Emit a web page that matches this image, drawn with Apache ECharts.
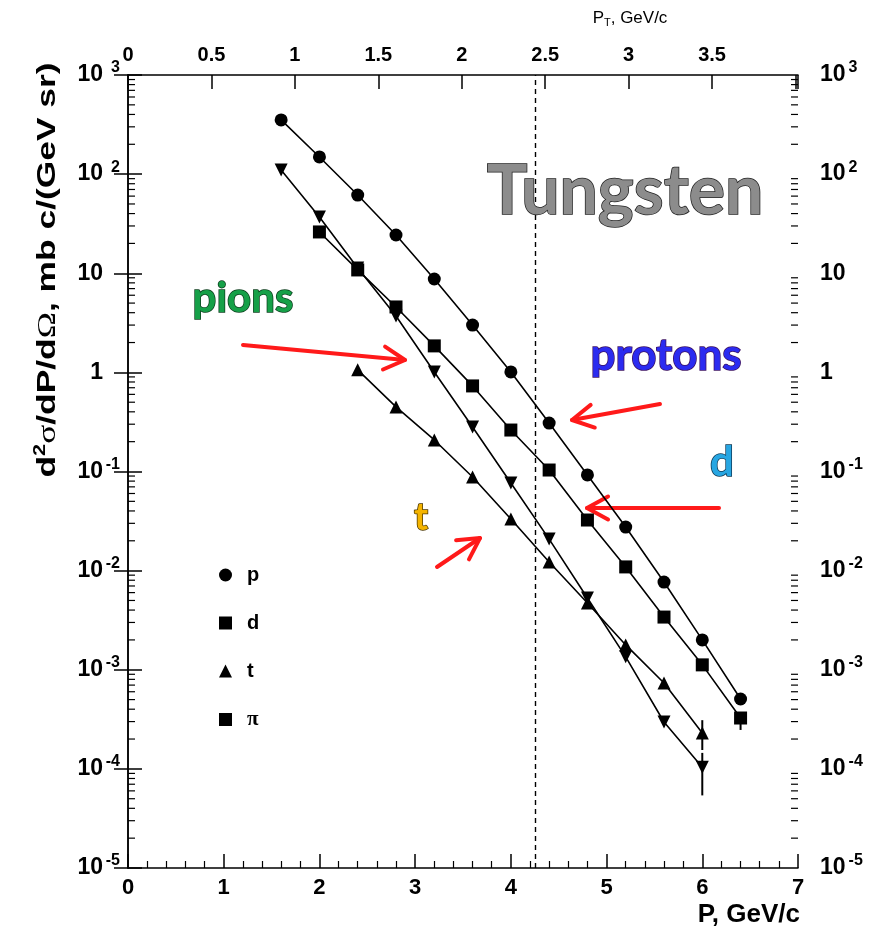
<!DOCTYPE html>
<html>
<head>
<meta charset="utf-8">
<script src="https://cdn.jsdelivr.net/npm/echarts@6/dist/echarts.min.js"></script>
<style>
  html, body { margin: 0; padding: 0; background: #fff; }
  #chart { width: 881px; height: 937px; }
</style>
</head>
<body>
<div id="chart"></div>
<script>
// momentum points, GeV/c
var pMom  = [1.6, 2.0, 2.4, 2.8, 3.2, 3.6, 4.0, 4.4, 4.8, 5.2, 5.6, 6.0, 6.4];
var dMom  = [2.0, 2.4, 2.8, 3.2, 3.6, 4.0, 4.4, 4.8, 5.2, 5.6, 6.0, 6.4];
var tMom  = [2.4, 2.8, 3.2, 3.6, 4.0, 4.4, 4.8, 5.2, 5.6, 6.0];
var piMom = [1.6, 2.0, 2.4, 2.8, 3.2, 3.6, 4.0, 4.4, 4.8, 5.2, 5.6, 6.0];

// d2sigma/dP/dOmega, mb c/(GeV sr)
var pVal  = [352, 149, 61.5, 24.3, 8.75, 3.0, 1.01, 0.308, 0.0923, 0.0275, 0.00767, 0.0020, 0.000507];
var dVal  = [26.1, 10.8, 4.57, 1.85, 0.73, 0.262, 0.1035, 0.0324, 0.0109, 0.0034, 0.00112, 0.000326];
var tVal  = [1.06, 0.448, 0.208, 0.088, 0.0332, 0.0122, 0.00471, 0.00178, 0.000735, 0.00023];
var piVal = [110, 36.9, 11.3, 3.7, 1.01, 0.281, 0.0766, 0.0208, 0.0053, 0.00135, 0.000297, 0.000104];

// error bars [P, low, high]
var errBars = [[6.0, 0.000155, 0.00031], [6.0, 0.000054, 0.000145], [6.4, 0.000247, 0.000326]];

var cutP = 4.26;          // dashed line
var sinTheta = 0.5736;    // pT = P sin(35 deg)
var pMax = 7;

var lab = 'Liberation Sans, Arial, sans-serif';
var ann = 'Lato, Open Sans, sans-serif';

function zip(a, b) { return a.map(function (x, i) { return [x, b[i]]; }); }

function yLabel(v) {
  var e = Math.round(Math.log10(v));
  if (e === 0) return '{b|1}{s| }';
  if (e === 1) return '{b|10}{s| }';
  return '{b|10}{s|' + e + '}';
}
var yRich = {
  b: { fontFamily: lab, fontWeight: 'bold', fontSize: 23, color: '#000', lineHeight: 24 },
  s: { fontFamily: lab, fontWeight: 'bold', fontSize: 16, color: '#000', width: 14, padding: [0, 0, 14, 3] }
};

function arrow(x1, y1, x2, y2) {
  var a = Math.atan2(y2 - y1, x2 - x1), h = 24, w = 0.5;
  var st = { stroke: '#ff1a1a', lineWidth: 4, fill: null, lineCap: 'round', lineJoin: 'round' };
  return [
    { type: 'line', shape: { x1: x1, y1: y1, x2: x2, y2: y2 }, style: st },
    { type: 'polyline', shape: { points: [
      [x2 - h * Math.cos(a - w), y2 - h * Math.sin(a - w)], [x2, y2],
      [x2 - h * Math.cos(a + w), y2 - h * Math.sin(a + w)]] }, style: st }
  ];
}

function annText(x, y, txt, size, fill, border) {
  return { type: 'text', x: x, y: y, z: 10, style: {
    text: txt, fontFamily: ann, fontWeight: 'bold', fontSize: size,
    fill: fill, stroke: border, lineWidth: 1.5, align: 'center', verticalAlign: 'middle',
    shadowColor: 'rgba(0,0,0,0.45)', shadowBlur: 4, shadowOffsetX: 2, shadowOffsetY: 2 } };
}

var minorVals = [];
for (var k = -5; k < 3; k++) {
  for (var m = 2; m <= 9; m++) minorVals.push(m * Math.pow(10, k));
}

var chart = echarts.init(document.getElementById('chart'));

var lineStyle = { color: '#000', width: 1.6 };
var option = {
  animation: false,
  backgroundColor: '#fff',
  grid: { left: 128, right: 83, top: 75, bottom: 69 },
  legend: {
    orient: 'vertical', left: 214, top: 560, itemWidth: 13, itemHeight: 13, itemGap: 28,
    textStyle: { fontFamily: lab, fontWeight: 'bold', fontSize: 20, color: '#000', padding: [0, 0, 0, 10],
      rich: { pi: { fontFamily: 'Liberation Serif, serif', fontSize: 21, color: '#000' } } },
    formatter: function (n) { return n === 'π' ? '{pi|π}' : n; },
    data: [
      { name: 'p', icon: 'circle' }, { name: 'd', icon: 'rect' },
      { name: 't', icon: 'triangle' }, { name: 'π', icon: 'rect' }
    ]
  },
  xAxis: [
    { type: 'value', min: 0, max: pMax, interval: 1, position: 'bottom',
      axisLine: { lineStyle: { color: '#000', width: 1.5 } },
      axisTick: { inside: true, length: 14, lineStyle: { color: '#000', width: 1.5 } },
      minorTick: { show: true, splitNumber: 5, length: 7, lineStyle: { color: '#000', width: 1.2 } },
      axisLabel: { margin: 9, fontFamily: lab, fontWeight: 'bold', fontSize: 22, color: '#000' },
      splitLine: { show: false } },
    { type: 'value', min: 0, max: pMax * sinTheta, interval: 0.5, position: 'top',
      axisLine: { lineStyle: { color: '#000', width: 1.5 } },
      axisTick: { inside: true, length: 14, lineStyle: { color: '#000', width: 1.5 } },
      axisLabel: { margin: 10, fontFamily: lab, fontWeight: 'bold', fontSize: 20, color: '#000',
        formatter: function (v) { return v > 3.6 ? '' : String(v); } },
      splitLine: { show: false } }
  ],
  yAxis: [
    { type: 'log', min: 1e-5, max: 1e3, logBase: 10, position: 'left',
      axisLine: { show: true, lineStyle: { color: '#000', width: 1.5 } },
      axisTick: { inside: true, length: 14, lineStyle: { color: '#000', width: 1.5 } },
      axisLabel: { margin: 8, formatter: yLabel, rich: yRich },
      splitLine: { show: false } },
    { type: 'log', min: 1e-5, max: 1e3, logBase: 10, position: 'right',
      axisLine: { show: true, lineStyle: { color: '#000', width: 1.5 } },
      axisTick: { inside: true, length: 14, lineStyle: { color: '#000', width: 1.5 } },
      axisLabel: { margin: 22, formatter: yLabel, rich: yRich },
      splitLine: { show: false } }
  ],
  series: [
    { name: 'p', type: 'line', data: zip(pMom, pVal), symbol: 'circle', symbolSize: 13,
      itemStyle: { color: '#000' }, lineStyle: lineStyle,
      markLine: { silent: true, symbol: 'none', label: { show: false },
        lineStyle: { color: '#000', type: [5, 4], width: 1.4 }, data: [{ xAxis: cutP }] } },
    { name: 'd', type: 'line', data: zip(dMom, dVal), symbol: 'rect', symbolSize: 13,
      itemStyle: { color: '#000' }, lineStyle: lineStyle },
    { name: 't', type: 'line', data: zip(tMom, tVal), symbol: 'triangle', symbolSize: 13,
      itemStyle: { color: '#000' }, lineStyle: lineStyle },
    { name: 'π', type: 'line', data: zip(piMom, piVal), symbol: 'triangle', symbolRotate: 180, symbolSize: 13,
      itemStyle: { color: '#000' }, lineStyle: lineStyle },
    { name: 'err', type: 'custom', data: errBars, silent: true,
      renderItem: function (params, api) {
        var a = api.coord([api.value(0), api.value(1)]);
        var b = api.coord([api.value(0), api.value(2)]);
        return { type: 'line', shape: { x1: a[0], y1: a[1], x2: b[0], y2: b[1] },
          style: { stroke: '#000', lineWidth: 2 } };
      } },
    { name: 'minor', type: 'custom', data: minorVals.map(function (v) { return [v]; }), silent: true,
      renderItem: function (params, api) {
        var l = api.coord([0, api.value(0)]);
        var r = api.coord([pMax, api.value(0)]);
        var st = { stroke: '#000', lineWidth: 1.2 };
        return { type: 'group', children: [
          { type: 'line', shape: { x1: l[0], y1: l[1], x2: l[0] + 7, y2: l[1] }, style: st },
          { type: 'line', shape: { x1: r[0], y1: r[1], x2: r[0] - 7, y2: r[1] }, style: st }
        ] };
      } }
  ],
  graphic: [
    { type: 'text', x: 48, y: 270, rotation: Math.PI / 2, scaleX: 1.36, style: {
      text: '{b|d}{sup|2}{g|σ}{b|/dP/d}{g|Ω}{b|, mb c/(GeV sr)}',
      align: 'center', verticalAlign: 'middle',
      rich: {
        b: { fontFamily: lab, fontWeight: 'bold', fontSize: 26, fill: '#000' },
        sup: { fontFamily: lab, fontWeight: 'bold', fontSize: 16, fill: '#000', padding: [0, 0, 14, 0] },
        g: { fontFamily: 'Liberation Serif, serif', fontSize: 26, fill: '#000' }
      } } },
    { type: 'text', x: 800, y: 915, style: {
      text: 'P, GeV/c', fontFamily: lab, fontWeight: 'bold', fontSize: 26, fill: '#000',
      align: 'right', verticalAlign: 'middle' } },
    { type: 'text', x: 630, y: 18, style: {
      text: '{a|P}{t|T}{a|, GeV/c}', align: 'center', verticalAlign: 'middle',
      rich: {
        a: { fontFamily: lab, fontSize: 17, fill: '#000' },
        t: { fontFamily: lab, fontSize: 11, fill: '#000', padding: [10, 0, 0, 0] }
      } } },
    annText(625, 192, 'Tungsten', 68, '#8c8c8c', '#222'),
    annText(243, 298, 'pions', 42, '#16a048', '#0b3d1c'),
    annText(666, 356, 'protons', 44, '#2b2bf0', '#3a1060'),
    annText(722, 462, 'd', 42, '#27a6e2', '#0d3550'),
    annText(421, 518, 't', 38, '#f4b400', '#4a3500')
  ].concat(arrow(243, 345, 405, 360), arrow(660, 404, 572, 420),
           arrow(719, 508, 587, 508), arrow(437, 567, 480, 538))
};

chart.setOption(option);
</script>
</body>
</html>
